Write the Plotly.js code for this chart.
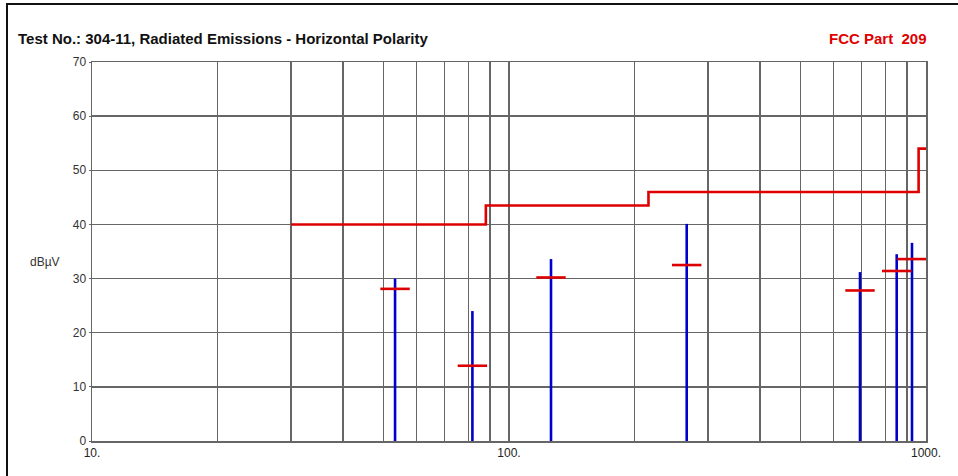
<!DOCTYPE html>
<html>
<head>
<meta charset="utf-8">
<script src="https://cdn.plot.ly/plotly-3.0.1.min.js"></script>
<style>
html,body{margin:0;padding:0;background:#fff;}
#chart{position:absolute;left:0;top:0;width:958px;height:476px;}
#frame{position:absolute;left:6px;top:3px;width:1000px;height:600px;border-left:2px solid #111;border-top:2px solid #111;pointer-events:none;}
</style>
</head>
<body>
<div id="chart"></div>
<div id="frame"></div>
<script>
// Limit line (FCC Part 209), step function
var limitFreq = [30, 88, 216, 960, 1000];
var limitLevel = [40, 43.5, 46, 54, 54];

// Peak emissions (blue vertical lines) and quasi-peak (red dashes)
var peakFreq = [53.3, 81.7, 126.1, 266.8, 694.6, 850.6, 925.6];
var peakLevel = [30.0, 24.0, 33.6, 40.1, 31.2, 34.5, 36.6];
var qpLevel = [28.1, 13.9, 30.2, 32.5, 27.8, 31.4, 33.6];

// Axis ticks
var xGridVals = [10,20,30,40,50,60,70,80,90,100,200,300,400,500,600,700,800,900,1000];
var xLabelMap = {10: '10.', 100: '100.', 1000: '1000.'};
var yTicks = [0,10,20,30,40,50,60,70];

var titleText = 'Test No.: 304-11, Radiated Emissions - Horizontal Polarity';
var limitText = 'FCC Part  209';
var yUnit = 'dBµV';

var stemX = [], stemY = [];
for (var i = 0; i < peakFreq.length; i++) {
  stemX.push(peakFreq[i], peakFreq[i], null);
  stemY.push(0, peakLevel[i], null);
}
var xText = xGridVals.map(function(v){ return xLabelMap[v] || ''; });

var gridColor = '#666666';
var traces = [
  {x: stemX, y: stemY, mode: 'lines', type: 'scatter',
   line: {color: '#0000cc', width: 2.6}, hoverinfo: 'skip', showlegend: false},
  {x: limitFreq, y: limitLevel, mode: 'lines', type: 'scatter',
   line: {color: '#dd0000', width: 2.6, shape: 'hv'}, showlegend: false},
  {x: peakFreq, y: qpLevel, mode: 'markers', type: 'scatter',
   marker: {symbol: 'line-ew', size: 21, line: {color: '#dd0000', width: 2.6}},
   showlegend: false}
];

var layout = {
  width: 958, height: 476,
  margin: {l: 92, r: 32, t: 62, b: 35},
  paper_bgcolor: '#fff', plot_bgcolor: '#fff',
  font: {family: 'Liberation Sans, Arial, sans-serif', size: 12, color: '#333'},
  xaxis: {
    type: 'log', range: [1, 3],
    tickvals: xGridVals, ticktext: xText,
    showgrid: true, gridcolor: gridColor, gridwidth: 1.4,
    showline: true, linecolor: gridColor, linewidth: 1.5, mirror: true,
    ticks: '', zeroline: false,
    tickfont: {size: 12, color: '#222'}
  },
  yaxis: {
    range: [0, 70], tickvals: yTicks,
    showgrid: true, gridcolor: gridColor, gridwidth: 1.4,
    showline: true, linecolor: gridColor, linewidth: 1.5, mirror: true,
    ticks: 'outside', ticklen: 2, tickcolor: gridColor, zeroline: false,
    tickfont: {size: 12, color: '#333'}
  },
  annotations: [
    {text: '<b>' + titleText + '</b>', xref: 'paper', yref: 'paper',
     x: -0.0911, y: 1.0607, xanchor: 'left', yanchor: 'middle', showarrow: false,
     font: {size: 15, color: '#111'}},
    {text: '<b>' + limitText + '</b>', xref: 'paper', yref: 'paper',
     x: 1.0036, y: 1.0607, xanchor: 'right', yanchor: 'middle', showarrow: false,
     font: {size: 15, color: '#e00000'}},
    {text: yUnit, xref: 'paper', yref: 'paper',
     x: -0.0564, y: 0.472, xanchor: 'center', yanchor: 'middle', showarrow: false,
     font: {size: 12, color: '#333'}}
  ]
};

Plotly.newPlot('chart', traces, layout, {displayModeBar: false, staticPlot: true});
</script>
</body>
</html>
